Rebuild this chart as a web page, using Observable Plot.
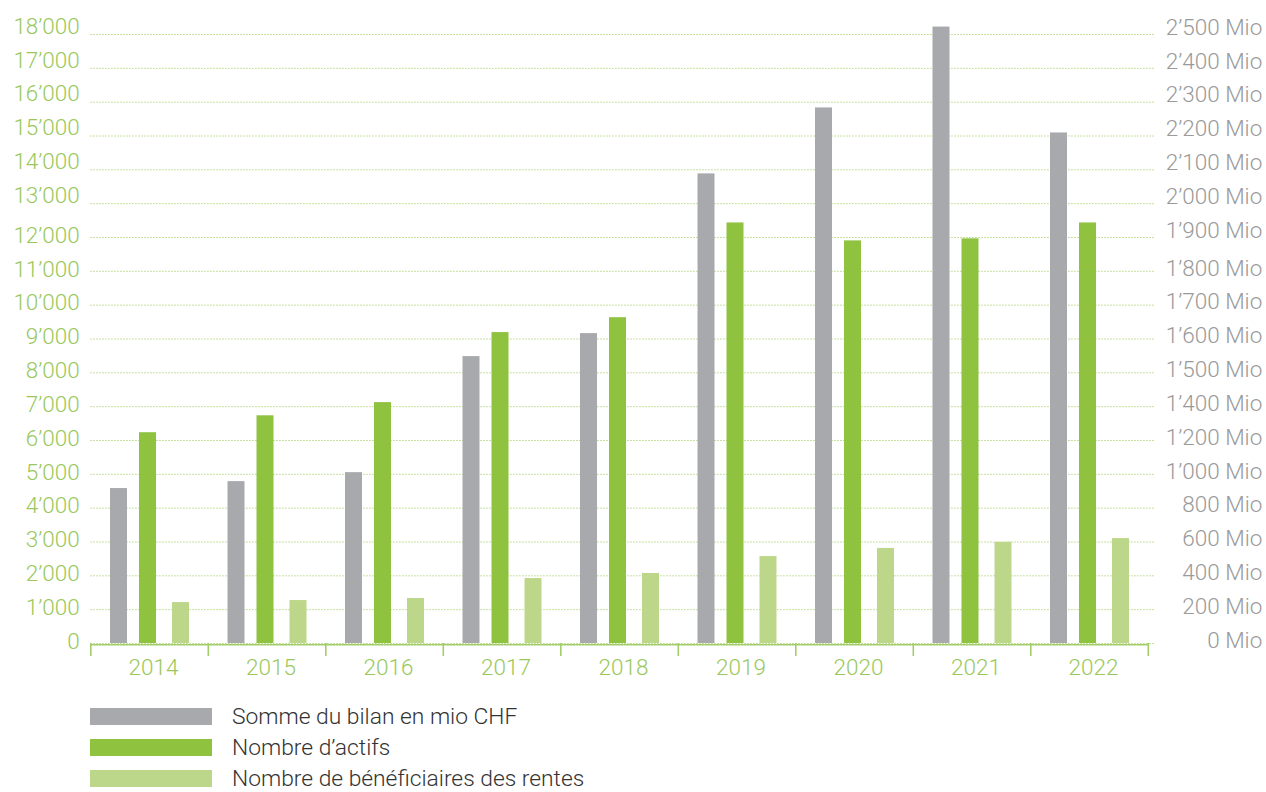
<!DOCTYPE html>
<html>
<head>
<meta charset="utf-8">
<script src="https://cdn.jsdelivr.net/npm/d3@7"></script>
<script src="https://cdn.jsdelivr.net/npm/@observablehq/plot@0.6"></script>
<style>
  html, body { margin: 0; padding: 0; background: #fff; }
  #chart svg { display: block; }
  #legend { font-family: Roboto, "Liberation Sans", sans-serif; font-weight: 300; font-size: 22.8px; color: #333; padding-top: 18px; }
  .row { display: flex; align-items: center; height: 17px; margin-bottom: 14px; }
  .sw { width: 122px; height: 17px; margin-left: 90px; margin-right: 20px; }
</style>
</head>
<body>
<div id="chart"></div>
<div id="legend"></div>
<script>
const years = [2014, 2015, 2016, 2017, 2018, 2019, 2020, 2021, 2022];
const bilanMio = [916, 957, 1010, 1548, 1616, 2088, 2283, 2522, 2209];
const actifs = [6230, 6730, 7120, 9190, 9630, 12430, 11900, 11960, 12430];
const rentiers = [1210, 1270, 1330, 1920, 2070, 2570, 2810, 2990, 3100];
const leftTicks = [0, 1000, 2000, 3000, 4000, 5000, 6000, 7000, 8000, 9000, 10000, 11000, 12000, 13000, 14000, 15000, 16000, 17000, 18000];
const rightTicks = [0, 200, 400, 600, 800, 1000, 1200, 1400, 1500, 1600, 1700, 1800, 1900, 2000, 2100, 2200, 2300, 2400, 2500];
const seriesNames = ["Somme du bilan en mio CHF", "Nombre d\u2019actifs", "Nombre de b\u00e9n\u00e9ficiaires des rentes"];
const colors = ["#a8a9ac", "#8fc23f", "#bdd78a"];

const green = "#9ac85c";
const axisGreen = "#a3cd6a";
const gridColor = "#a9d06c";
const greyText = "#9a9a9a";

const fmt = d3.formatLocale({decimal: ".", thousands: "\u2019", grouping: [3]}).format(",d");
// right-hand axis labels sit on the left-hand gridlines
const mioToLeft = d3.scaleLinear().domain(rightTicks).range(leftTicks);

const rows = (vals, toY) => years.map((y, i) => ({year: y, value: toY(vals[i])}));
const dGrey = rows(bilanMio, v => mioToLeft(v));
const dGreen = rows(actifs, v => v);
const dLight = rows(rentiers, v => v);

const bar = (data, fill, insetLeft, insetRight) =>
  Plot.rectY(data, {x1: "year", x2: d => d.year + 1, y: "value", fill, insetLeft, insetRight});

const idx = leftTicks.map((v, i) => i);
const leftLow = idx.filter(i => leftTicks[i] < 13000);
const leftHigh = idx.filter(i => leftTicks[i] >= 13000);
const rightLow = idx.filter(i => leftTicks[i] < 12000);
const rightHigh = idx.filter(i => leftTicks[i] >= 12000);

const rightLabel = (sel, dy) => Plot.text(sel, {
  y: i => leftTicks[i], text: i => fmt(rightTicks[i]) + " Mio",
  frameAnchor: "right", textAnchor: "end", dx: 114, dy, fill: greyText, fontSize: 22.5
});
const leftLabel = (sel, dy) => Plot.axisY({
  ticks: sel.map(i => leftTicks[i]), tickSize: 0, tickPadding: 11, tickFormat: fmt,
  color: green, fontSize: 22.5, dy, label: null
});

const chart = Plot.plot({
  width: 1266,
  height: 690,
  marginLeft: 90.3,
  marginRight: 118.2,
  marginTop: 34,
  marginBottom: 47,
  style: {fontFamily: "Roboto, 'Liberation Sans', sans-serif", fontWeight: 300, background: "#fff"},
  x: {domain: [2014, 2023]},
  y: {domain: [0, 18000]},
  marks: [
    Plot.ruleY(leftTicks, {y: d => d, stroke: gridColor, strokeWidth: 1, strokeDasharray: "1.3,1.7", insetRight: -6}),
    bar(dGrey, colors[0], 19.7, 80.8),
    bar(dGreen, colors[1], 48.7, 51.8),
    bar(dLight, colors[2], 81.7, 18.8),
    Plot.ruleY([0], {stroke: axisGreen, strokeWidth: 1.6, dy: 1.2}),
    Plot.axisX({ticks: d3.range(2014, 2024), tickSize: 13, tickFormat: () => "", stroke: axisGreen, strokeWidth: 1.6, label: null}),
    Plot.axisX({ticks: years.map(y => y + 0.5), tickSize: 0, tickPadding: 16, tickFormat: d => String(d - 0.5), color: green, fontSize: 22.5, dx: 4, label: null}),
    leftLabel(leftLow, -2),
    leftLabel(leftHigh, -8),
    rightLabel(rightLow, -3),
    rightLabel(rightHigh, -7)
  ]
});
document.getElementById("chart").appendChild(chart);

const legend = document.getElementById("legend");
seriesNames.forEach((name, i) => {
  const row = document.createElement("div");
  row.className = "row";
  const sw = document.createElement("div");
  sw.className = "sw";
  sw.style.background = colors[i];
  const label = document.createElement("span");
  label.textContent = name;
  row.appendChild(sw);
  row.appendChild(label);
  legend.appendChild(row);
});
</script>
</body>
</html>
